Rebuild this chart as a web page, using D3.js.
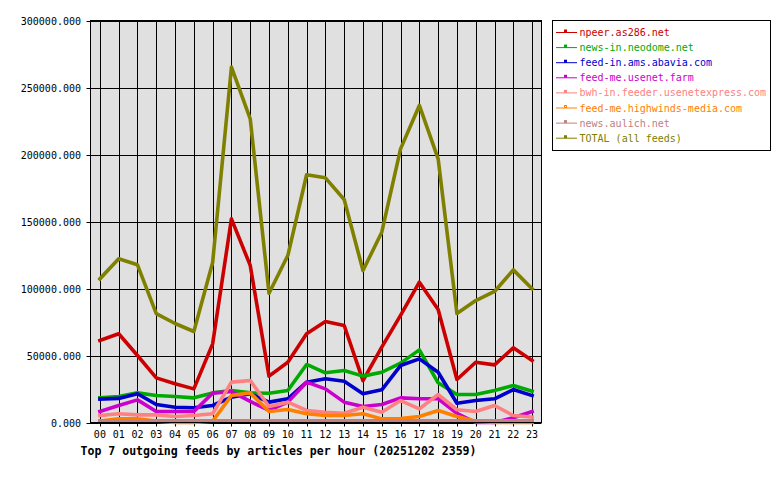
<!DOCTYPE html>
<html><head><meta charset="utf-8">
<script src="https://cdn.jsdelivr.net/npm/d3@7"></script>
<style>body{margin:0;background:#fff}svg{display:block}</style>
</head><body>
<svg id="c" width="780" height="480"></svg>
<script>
const hours = ["00","01","02","03","04","05","06","07","08","09","10","11","12","13","14","15","16","17","18","19","20","21","22","23"];
const yTicks = [0,50000,100000,150000,200000,250000,300000];
const seriesNames = ["npeer.as286.net","news-in.neodome.net","feed-in.ams.abavia.com","feed-me.usenet.farm","bwh-in.feeder.usenetexpress.com","feed-me.highwinds-media.com","news.aulich.net","TOTAL (all feeds)"];
const seriesColors = ["#cc0000","#00aa00","#0000cc","#cc00cc","#ff8080","#ff8000","#c08080","#808000"];
const npeer   = [61200,66200,50000,33300,28900,25100,58700,152000,117200,34600,45000,66200,75400,72400,31300,56200,79900,104700,84300,32100,45000,43000,55700,46300];
const neodome = [18500,19400,22100,20100,19400,18400,22100,23900,22100,21800,23900,43300,37100,38800,34600,37500,44300,54200,29600,20900,20900,23900,27600,23400];
const abavia  = [17500,18000,21500,13400,11400,11000,12700,18900,21400,15200,17700,30100,32600,30800,21400,24400,42500,47500,37500,14400,16400,17700,24600,20100];
const usenetFarm = [8200,12700,16900,8200,8200,8200,21900,23100,15700,9000,15200,30100,25100,15200,11900,13400,18400,17700,17700,6900,0,0,3500,8200];
const bwh     = [5200,6500,5700,5700,4500,5200,6500,30100,31300,11900,15200,9000,7700,6900,11400,7700,16400,10200,20900,9500,8200,12700,5200,4000];
const highwinds = [1000,2700,2700,1000,0,0,1000,20100,22100,8200,9700,6500,5200,5200,6500,2700,3000,4500,9000,4500,1000,0,0,0];
const aulich  = [1200,1200,1200,1200,1200,1200,1200,1200,1200,1200,1200,1200,1200,1200,1200,1200,1200,1200,1200,1200,1200,1200,1200,1200];
const total   = [107200,122200,117700,81300,73900,67900,119400,265200,226600,96500,124600,184900,182600,166400,113400,142000,204200,236600,196800,81300,91000,97800,113900,99800];
const seriesValues = [npeer,neodome,abavia,usenetFarm,bwh,highwinds,aulich,total];

const svg = d3.select("#c");
const L = 90.5, R = 541.5, T = 20.5, B = 422.5;
const x = d3.scalePoint().domain(hours).range([L, R]).padding(0.5);
const y = d3.scaleLinear().domain([0,300000]).range([B, T]);
const mono = "'DejaVu Sans Mono', 'Liberation Mono', monospace";

svg.append("rect").attr("width",780).attr("height",480).attr("fill","#fff");
svg.append("rect").attr("x",L).attr("y",T).attr("width",R-L).attr("height",B-T).attr("fill","#e0e0e0");

// grid
const g = svg.append("g").attr("stroke","#000").attr("stroke-width",1);
g.selectAll("line.v").data(hours).join("line").attr("class","v")
  .attr("x1",d=>Math.round(x(d))+0.5).attr("x2",d=>Math.round(x(d))+0.5).attr("y1",T).attr("y2",B+4);
g.selectAll("line.h").data(yTicks).join("line").attr("class","h")
  .attr("x1",L-4).attr("x2",R).attr("y1",d=>Math.round(y(d))+0.5).attr("y2",d=>Math.round(y(d))+0.5);

// axis labels
svg.append("g").selectAll("text").data(yTicks).join("text")
  .attr("x",81).attr("y",d=>y(d)+4).attr("text-anchor","end")
  .attr("font-family",mono).attr("font-size",10).attr("fill","#000")
  .text(d=>d3.format(".3f")(d));
svg.append("g").selectAll("text").data(hours).join("text")
  .attr("x",d=>x(d)).attr("y",438).attr("text-anchor","middle")
  .attr("font-family",mono).attr("font-size",10).attr("fill","#000")
  .text(d=>d);

// lines
const line = d3.line().x((d,i)=>x(hours[i])).y(d=>y(d));
svg.append("g").selectAll("path").data(seriesValues).join("path")
  .attr("d",line).attr("fill","none")
  .attr("stroke",(d,i)=>seriesColors[i]).attr("stroke-width",3.6)
  .attr("stroke-linejoin","round").attr("stroke-linecap","square");

// border
svg.append("rect").attr("x",L).attr("y",T).attr("width",R-L).attr("height",B-T)
  .attr("fill","none").attr("stroke","#000").attr("stroke-width",1);

// title
svg.append("text").attr("x",80.5).attr("y",455).attr("font-family",mono)
  .attr("font-weight","bold").attr("font-size",11.75).attr("fill","#000")
  .attr("textLength",396).attr("lengthAdjust","spacingAndGlyphs")
  .text("Top 7 outgoing feeds by articles per hour (20251202 2359)");

// legend
svg.append("rect").attr("x",552.5).attr("y",20.5).attr("width",218).attr("height",130)
  .attr("fill","#fff").attr("stroke","#000").attr("stroke-width",1);
const lg = svg.append("g").selectAll("g").data(seriesNames).join("g")
  .attr("transform",(d,i)=>`translate(0,${32.5+i*15.1})`);
lg.append("line").attr("x1",556).attr("x2",577).attr("y1",0).attr("y2",0)
  .attr("stroke",(d,i)=>seriesColors[i]).attr("stroke-width",1);
lg.append("rect").attr("x",564.5).attr("y",-2.5).attr("width",2).attr("height",2)
  .attr("fill","none").attr("stroke",(d,i)=>seriesColors[i]).attr("stroke-width",1);
lg.append("text").attr("x",579.5).attr("y",3.5).attr("font-family",mono).attr("font-size",10)
  .attr("fill",(d,i)=>seriesColors[i]).text(d=>d);
</script>
</body></html>
